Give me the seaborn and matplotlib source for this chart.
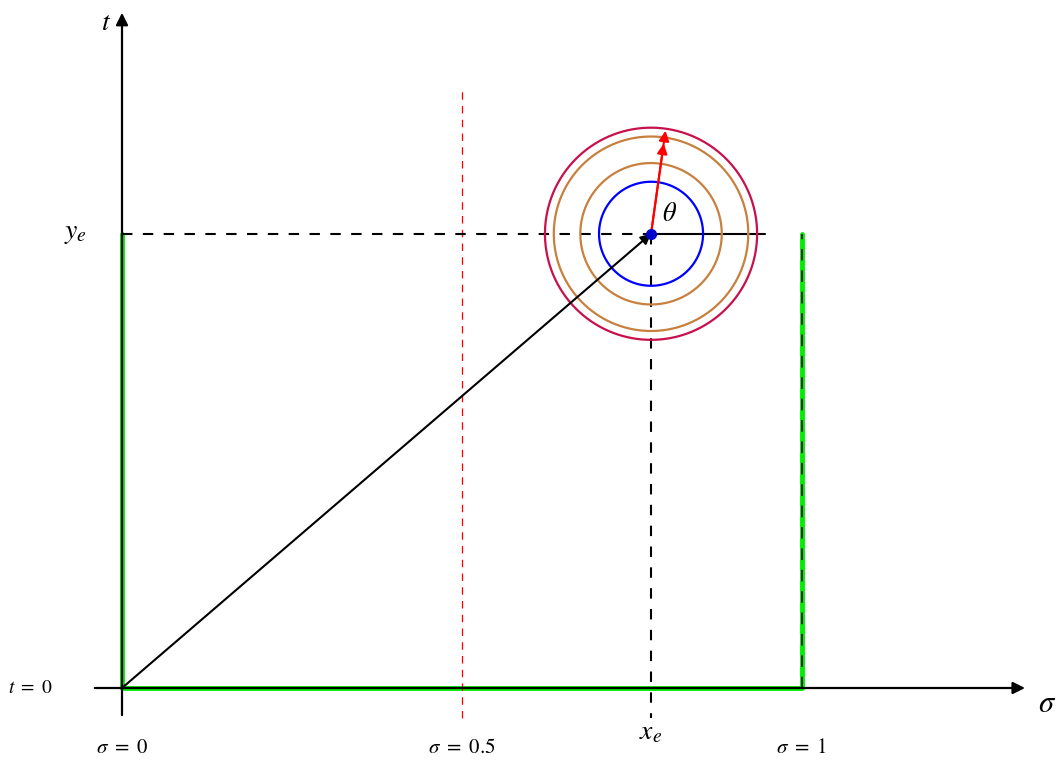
import numpy as np
import pandas as pd
import matplotlib.pyplot as plt
import seaborn as sns

# geometry (sigma / t units)
xe, ye = 0.778, 0.668
radii = [0.0765, 0.104, 0.143, 0.156]
circle_colors = ["#0000ff", "#c8803e", "#c8803e", "#c8104a"]
theta_deg = 82.0
arrow_radii = [0.134, 0.153]
strip_sigma = [0.0, 0.0, 1.0, 1.0]
strip_t = [ye, 0.0, 0.0, ye]
half_line = 0.5
half_top = 0.882
tick_sigmas = [0.0, 0.5, 1.0]
tick_labels = [r"$\sigma\ =\ 0$", r"$\sigma\ =\ 0.5$", r"$\sigma\ =\ 1$"]

sns.set_theme(style="white")
plt.rcParams["mathtext.fontset"] = "stix"
plt.rcParams["font.family"] = ["STIXGeneral", "DejaVu Serif"]
plt.rcParams["text.color"] = "black"

fig = plt.figure(figsize=(10.58, 7.6), dpi=100)
ax = fig.add_axes([0, 0, 1, 1])
ax.set_xlim(-122 / 680, 936 / 680)
ax.set_ylim(-72 / 680, 688 / 680)
ax.axis("off")

# axes with arrows
ax.annotate("", xy=(1.332, 0), xytext=(-0.044, 0),
            arrowprops=dict(arrowstyle="-|>", color="black", lw=1.6, mutation_scale=18))
ax.annotate("", xy=(0, 0.997), xytext=(0, -0.044),
            arrowprops=dict(arrowstyle="-|>", color="black", lw=1.6, mutation_scale=18))

# strip boundary: green with black dashes on top
strip = pd.DataFrame({"sigma": strip_sigma, "t": strip_t})
sns.lineplot(data=strip, x="sigma", y="t", sort=False, estimator=None,
             color="#00ee00", lw=3.5, ax=ax)
sns.lineplot(data=strip, x="sigma", y="t", sort=False, estimator=None,
             color="#222222", lw=1.4, linestyle=(0, (6, 5)), ax=ax)

# critical line
ax.plot([half_line, half_line], [-0.044, half_top], color="red", lw=0.9, linestyle=(0, (6, 5)))

# dashed guides to the point
ax.plot([0, xe], [ye, ye], color="black", lw=1.5, linestyle=(0, (5, 5)))
ax.plot([xe, xe], [ye, -0.044], color="black", lw=1.5, linestyle=(0, (5, 5)))
ax.plot([xe, 0.946], [ye, ye], color="black", lw=1.5)

# circles around the point
phi = np.linspace(0, 2 * np.pi, 400)
for r, c in zip(radii, circle_colors):
    ax.plot(xe + r * np.cos(phi), ye + r * np.sin(phi), color=c, lw=1.6)

# radius vector from origin
ax.annotate("", xy=(xe, ye), xytext=(0, 0),
            arrowprops=dict(arrowstyle="-|>", color="black", lw=1.5, mutation_scale=15,
                            shrinkA=0, shrinkB=0))

# red arrows at angle theta
th = np.deg2rad(theta_deg)
for r in arrow_radii:
    ax.annotate("", xy=(xe + r * np.cos(th), ye + r * np.sin(th)), xytext=(xe, ye),
                arrowprops=dict(arrowstyle="-|>", color="red", lw=1.5, mutation_scale=15,
                                shrinkA=0, shrinkB=0))

ax.plot([xe], [ye], "o", color="#0000cc", ms=7, zorder=5)

# labels
ax.text(xe + 0.027, ye + 0.028, r"$\theta$", fontsize=19, ha="center", va="center")
ax.text(-0.024, 0.977, r"$t$", fontsize=20, ha="center", va="center")
ax.text(1.36, -0.025, r"$\sigma$", fontsize=22, ha="center", va="center")
ax.text(-0.068, ye, r"$y_e$", fontsize=20, ha="center", va="center")
ax.text(xe, -0.066, r"$x_e$", fontsize=20, ha="center", va="center")
ax.text(-0.135, 0, r"$t\ =\ 0$", fontsize=14, ha="center", va="center")
for s, lab in zip(tick_sigmas, tick_labels):
    ax.text(s, -0.088, lab, fontsize=15, ha="center", va="center")

fig.savefig("out.png", dpi=100, facecolor="white")
